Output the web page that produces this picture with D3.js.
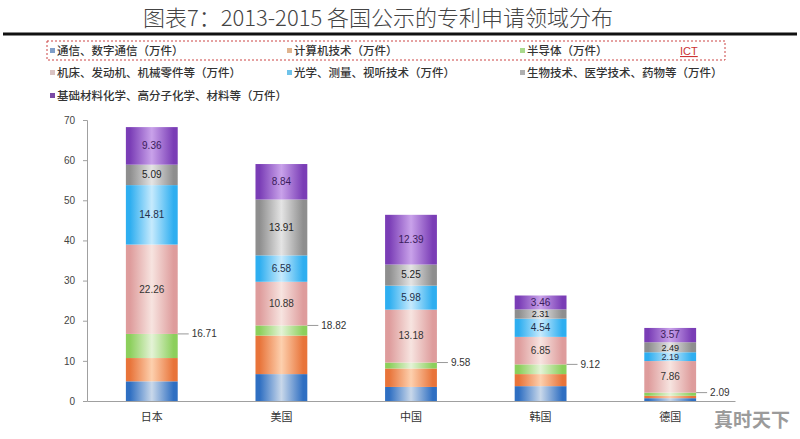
<!DOCTYPE html>
<html><head><meta charset="utf-8">
<script src="https://cdn.jsdelivr.net/npm/d3@7"></script>
<style>html,body{margin:0;padding:0;background:#fff;}svg{display:block;}</style>
</head><body>
<svg id="chart" width="800" height="439"></svg>
<script>
const categories = ["日本", "美国", "中国", "韩国", "德国"];
const seriesNames = [
  "通信、数字通信（万件）",
  "计算机技术（万件）",
  "半导体（万件）",
  "机床、发动机、机械零件等（万件）",
  "光学、测量、视听技术（万件）",
  "生物技术、医学技术、药物等（万件）",
  "基础材料化学、高分子化学、材料等（万件）"
];
const commValues = [4.9, 6.7, 3.5, 3.7, 0.7];
const computerValues = [5.8, 9.6, 4.6, 3.0, 0.6];
const semiValues = [6.01, 2.52, 1.48, 2.42, 0.79];
const machineValues = [22.26, 10.88, 13.18, 6.85, 7.86];
const opticsValues = [14.81, 6.58, 5.98, 4.54, 2.19];
const bioValues = [5.09, 13.91, 5.25, 2.31, 2.49];
const materialValues = [9.36, 8.84, 12.39, 3.46, 3.57];
const ictTotals = [16.71, 18.82, 9.58, 9.12, 2.09];
const yTicks = [0, 10, 20, 30, 40, 50, 60, 70];

const seriesValues = [commValues, computerValues, semiValues, machineValues, opticsValues, bioValues, materialValues];
const showLabel = [false, false, false, true, true, true, true];
const edgeColors = ["#2f6fc2", "#e8743a", "#8ccf5c", "#de9c9c", "#2eaef0", "#8e8e8e", "#7a3db6"];
const midColors  = ["#c9d8ea", "#fdd0ae", "#e4f3d6", "#f7e4e0", "#c6eafd", "#e4e4e4", "#c9a2ea"];
const legendMarker = ["#7f9fc9", "#e0b48e", "#a9d98c", "#d9c3c3", "#6fc3ea", "#b0b0b0", "#7a4aa6"];
const labelColors = ["#222", "#222", "#222", "#333", "#1f2f4a", "#222", "#3b1d5c"];

const svg = d3.select("#chart");
const defs = svg.append("defs");
edgeColors.forEach((c, i) => {
  const g = defs.append("linearGradient").attr("id", "g" + i)
    .attr("x1", "0").attr("x2", "1").attr("y1", "0").attr("y2", "0");
  g.append("stop").attr("offset", "0").attr("stop-color", c);
  g.append("stop").attr("offset", "0.08").attr("stop-color", c);
  g.append("stop").attr("offset", "0.5").attr("stop-color", midColors[i]);
  g.append("stop").attr("offset", "0.92").attr("stop-color", c);
  g.append("stop").attr("offset", "1").attr("stop-color", c);
});

// Title
svg.append("text").attr("x", 378).attr("y", 26).attr("text-anchor", "middle")
  .attr("font-family", "'Noto Sans CJK SC', sans-serif").attr("font-weight", 300)
  .attr("font-size", 22).attr("fill", "#444")
  .text("图表7：2013-2015 各国公示的专利申请领域分布");
svg.append("line").attr("x1", 3).attr("x2", 797).attr("y1", 34).attr("y2", 34)
  .attr("stroke", "#111").attr("stroke-width", 3);

// Legend
svg.append("rect").attr("x", 47).attr("y", 41).attr("width", 678).attr("height", 19)
  .attr("fill", "none").attr("stroke", "#c44").attr("stroke-width", 1).attr("stroke-dasharray", "2,2");
const legendPos = [[50, 51], [287, 51], [520, 51], [50, 73], [287, 73], [520, 73], [50, 96]];
const lg = svg.append("g");
seriesNames.forEach((n, i) => {
  const [lx, ly] = legendPos[i];
  lg.append("rect").attr("x", lx).attr("y", ly - 3).attr("width", 5).attr("height", 5).attr("fill", legendMarker[i]);
  lg.append("text").attr("x", lx + 7).attr("y", ly + 4)
    .attr("font-family", "'Noto Sans CJK SC', sans-serif").attr("font-weight", 500)
    .attr("font-size", 11.5).attr("fill", "#333").text(n);
});
svg.append("text").attr("x", 680).attr("y", 55).attr("font-family", "'Liberation Sans', Arial, sans-serif")
  .attr("font-size", 11).attr("fill", "#c33").attr("text-decoration", "underline").text("ICT");

// Scales
const x = d3.scaleBand().domain(categories).range([87, 735]).paddingInner(0.6).paddingOuter(0.3);
const y = d3.scaleLinear().domain([0, 70]).range([401, 120]);

// Axes
const yAxis = svg.append("g").attr("transform", "translate(87,0)")
  .call(d3.axisLeft(y).tickValues(yTicks).tickSize(4).tickPadding(8));
yAxis.select(".domain").attr("stroke", "#a0a0a0");
yAxis.selectAll(".tick line").attr("stroke", "#a0a0a0");
yAxis.selectAll(".tick text").attr("font-family", "'Liberation Sans', Arial, sans-serif")
  .attr("font-size", 10).attr("fill", "#444");

const xAxis = svg.append("g").attr("transform", "translate(0,401)")
  .call(d3.axisBottom(x).tickSize(0).tickPadding(12));
xAxis.select(".domain").attr("stroke", "#a0a0a0");
xAxis.selectAll(".tick text").attr("font-family", "'Noto Sans CJK SC', sans-serif")
  .attr("font-size", 11).attr("fill", "#333");

// Stacked data
const rows = categories.map((c, ci) => {
  const r = { cat: c };
  seriesValues.forEach((s, si) => { r["s" + si] = s[ci]; });
  return r;
});
const stack = d3.stack().keys(seriesValues.map((s, i) => "s" + i));
const stacked = stack(rows);

const bars = svg.append("g");
stacked.forEach((layer, si) => {
  bars.selectAll(null).data(layer).enter().append("rect")
    .attr("x", d => x(d.data.cat))
    .attr("width", x.bandwidth())
    .attr("y", d => y(d[1]))
    .attr("height", d => y(d[0]) - y(d[1]))
    .attr("fill", "url(#g" + si + ")");
});
stacked.forEach((layer, si) => {
  if (showLabel[si]) {
    bars.selectAll(null).data(layer).enter().append("text")
      .attr("x", d => x(d.data.cat) + x.bandwidth() / 2)
      .attr("y", d => (y(d[0]) + y(d[1])) / 2 + 3.3)
      .attr("text-anchor", "middle")
      .attr("font-family", "'Liberation Sans', Arial, sans-serif")
      .attr("font-size", d => (y(d[0]) - y(d[1])) < 11 ? 9 : 10)
      .attr("fill", labelColors[si])
      .text(d => (d[1] - d[0]).toFixed(2));
  }
});

// ICT total labels with leader lines
const ict = svg.append("g");
categories.forEach((c, i) => {
  const xr = x(c) + x.bandwidth();
  const yy = y(ictTotals[i]);
  ict.append("line").attr("x1", xr).attr("x2", xr + 11).attr("y1", yy).attr("y2", yy)
    .attr("stroke", "#999").attr("stroke-width", 1);
  ict.append("text").attr("x", xr + 14).attr("y", yy + 3.5)
    .attr("font-family", "'Liberation Sans', Arial, sans-serif")
    .attr("font-size", 10).attr("fill", "#333").text(ictTotals[i].toFixed(2));
});

// Watermark
svg.append("text").attr("x", 752).attr("y", 427).attr("text-anchor", "middle")
  .attr("font-family", "'Noto Sans CJK SC', sans-serif").attr("font-weight", 700)
  .attr("font-size", 19).attr("fill", "#8a8a8a").attr("opacity", 0.85).text("真时天下");
</script>
</body></html>
